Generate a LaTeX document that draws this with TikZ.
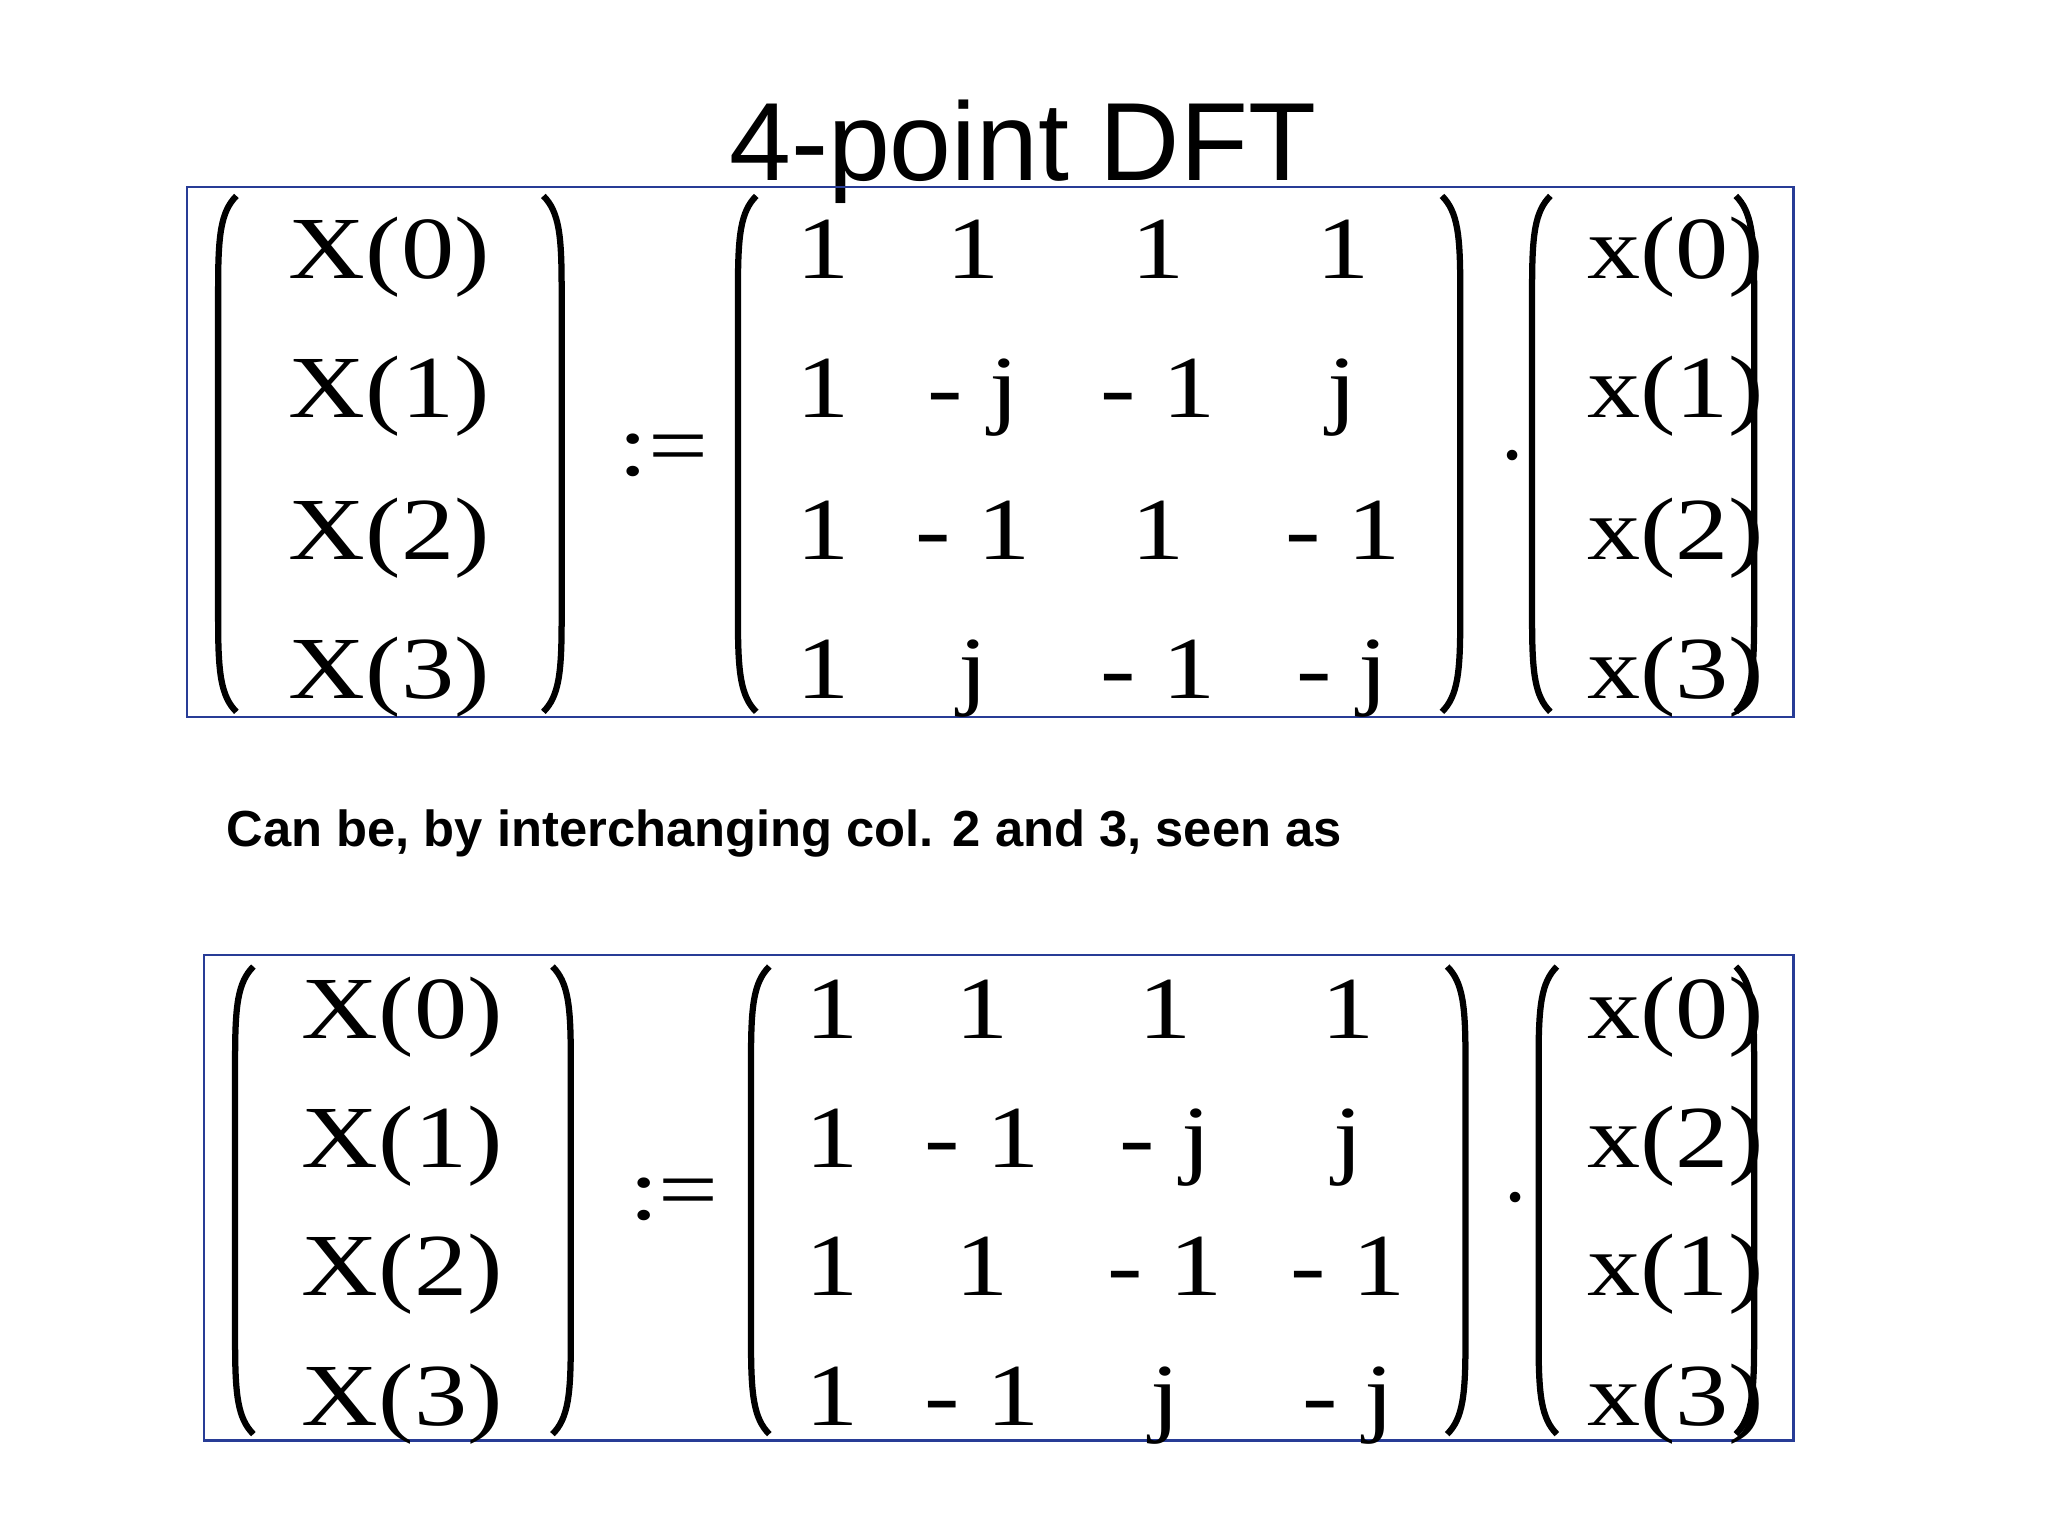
\documentclass[tikz,border=0pt]{standalone}
\usepackage{fontspec}
\setmainfont{Liberation Serif}
\newfontfamily\arialf{Liberation Sans}
\definecolor{boxblue}{RGB}{40,60,150}
\tikzset{
  frame/.style={draw=boxblue,line width=0.7pt},
  ent/.style={anchor=base,inner sep=0pt,font=\fontsize{25.5}{27}\selectfont},
  par/.style={line width=1.8pt},
}
\newcommand{\wide}[1]{\scalebox{1.2}[1]{#1}}
\newcommand{\lpar}[4]{% name x ytop ybot
  \draw[par] (#2+14,#3) .. controls (#2+2,#3+12) and (#2,#3+30) .. (#2,#3+70) -- (#2,#4-70) .. controls (#2,#4-30) and (#2+2,#4-12) .. (#2+14,#4);}
\newcommand{\rpar}[4]{%
  \draw[par] (#2-14,#3) .. controls (#2-2,#3+12) and (#2,#3+30) .. (#2,#3+70) -- (#2,#4-70) .. controls (#2,#4-30) and (#2-2,#4-12) .. (#2-14,#4);}
\begin{document}
\begin{tikzpicture}[x=0.013213cm,y=-0.013213cm]
\useasboundingbox (0,0) rectangle (1568,1176);
\node[anchor=base,inner sep=0pt,font=\arialf\fontsize{32}{34}\selectfont] (title) at (783,138) {4-point DFT};
\draw[frame] (143,143) rectangle (1373,549);
\node[anchor=base west,inner sep=0pt,font=\arialf\bfseries\fontsize{14.6}{16}\selectfont] (sub) at (173,648) {Can be, by interchanging col. 2 and 3, seen as};
\draw[frame] (156,731) rectangle (1373,1103);
% matrix 1
\lpar{a}{167}{150}{545}\rpar{b}{430}{150}{545}
\lpar{c}{565}{150}{545}\rpar{d}{1118}{150}{545}
\lpar{e}{1173}{150}{545}\rpar{f}{1343}{150}{545}
\foreach \r/\y in {0/190,1/297,2/405,3/512}{
  \node[ent] (X\r) at (298,\y+23) {\wide{X(\r)}};
  \node[ent] (x\r) at (1283,\y+23) {\wide{x(\r)}};}
\node[ent] (eq1) at (508,364) {\wide{:=}};
\node[ent] (dot1) at (1158,352) {.};
\foreach \y/\a/\b/\c/\d in {190/1/1/1/1, 297/1/- j/- 1/j, 405/1/- 1/1/- 1, 512/1/j/- 1/- j}{
  \node[ent] at (630,\y+23) {\wide{\a}};
  \node[ent] at (745,\y+23) {\wide{\b}};
  \node[ent] at (887,\y+23) {\wide{\c}};
  \node[ent] at (1028,\y+23) {\wide{\d}};}
% matrix 2
\lpar{g}{180}{740}{1098}\rpar{h}{437}{740}{1098}
\lpar{i}{575}{740}{1098}\rpar{k}{1122}{740}{1098}
\lpar{l}{1178}{740}{1098}\rpar{m}{1343}{740}{1098}
\foreach \r/\s/\y in {0/0/772,1/2/871,2/1/969,3/3/1068}{
  \node[ent] (Y\r) at (308,\y+23) {\wide{X(\r)}};
  \node[ent] (z\r) at (1283,\y+23) {\wide{x(\s)}};}
\node[ent] (eq2) at (516,934) {\wide{:=}};
\node[ent] (dot2) at (1160,920) {.};
\foreach \y/\a/\b/\c/\d in {772/1/1/1/1, 871/1/- 1/- j/j, 969/1/1/- 1/- 1, 1068/1/- 1/j/- j}{
  \node[ent] at (637,\y+23) {\wide{\a}};
  \node[ent] at (752,\y+23) {\wide{\b}};
  \node[ent] at (892,\y+23) {\wide{\c}};
  \node[ent] at (1032,\y+23) {\wide{\d}};}
\end{tikzpicture}
\end{document}
